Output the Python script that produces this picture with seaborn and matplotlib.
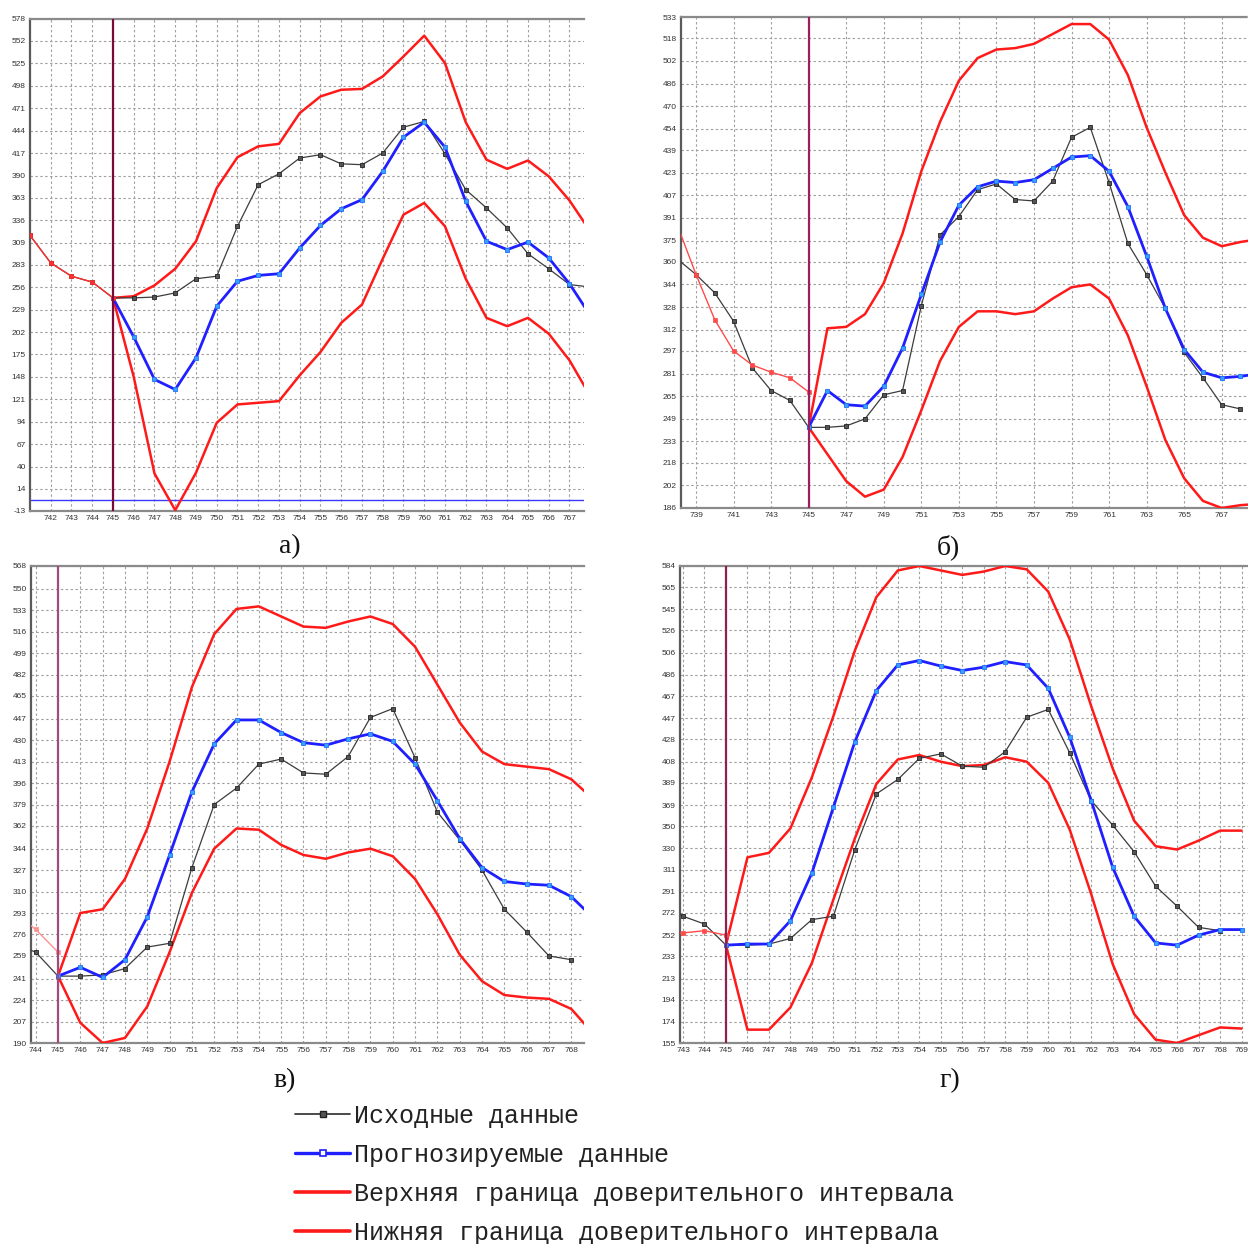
import matplotlib
matplotlib.use("Agg")
import matplotlib.pyplot as plt
import seaborn as sns
import pandas as pd
from matplotlib.lines import Line2D

# ---------------- data ----------------
# observed series (periods 738..768)
obs_t = list(range(738, 769))
obs_v = [362, 351, 338, 318, 285, 269, 262, 243, 243, 244, 249, 266, 269, 329, 379,
         392, 411, 415, 404, 403, 417, 448, 455, 416, 373, 351, 327, 296, 278, 259, 256]

# panel а: fitted history, forecast and confidence bounds
a_hist_t = [741, 742, 743, 744, 745]
a_hist_v = [318, 285, 269, 262, 243]
a_fc_t = list(range(745, 769))
a_fc = [243, 196, 145, 133, 171, 233, 263, 270, 272, 303, 330, 350, 361, 395, 436, 454,
        424, 359, 311, 301, 310, 291, 260, 222]
a_up = [243, 245, 258, 278, 311, 375, 412, 425, 428, 465, 485, 493, 494, 509, 533, 558,
        525, 454, 409, 398, 408, 389, 360, 323]
a_lo = [243, 148, 32, -12, 33, 93, 115, 117, 119, 150, 178, 213, 235, 290, 343, 357,
        329, 266, 219, 209, 219, 200, 168, 125]
a_yticks = [-13, 14, 40, 67, 94, 121, 148, 175, 202, 229, 256, 283, 309, 336, 363, 390,
            417, 444, 471, 498, 525, 552, 578]
a_xticks = list(range(742, 768))

# panel б
b_hist_t = [738, 739, 740, 741, 742, 743, 744, 745]
b_hist_v = [386, 351, 319, 297, 287, 282, 278, 268]
b_fc_t = list(range(745, 770))
b_fc = [243, 269, 259, 258, 272, 299, 337, 374, 400, 413, 417, 416, 418, 426, 434, 435,
        424, 399, 364, 327, 298, 282, 278, 279, 281]
b_up = [243, 313, 314, 323, 345, 380, 424, 459, 488, 504, 510, 511, 514, 521, 528, 528,
        517, 492, 455, 423, 393, 377, 371, 374, 376]
b_lo = [243, 224, 205, 194, 199, 222, 255, 290, 314, 325, 325, 323, 325, 334, 342, 344,
        334, 308, 272, 234, 207, 191, 186, 188, 189]
b_yticks = [186, 202, 218, 233, 249, 265, 281, 297, 312, 328, 344, 360, 375, 391, 407,
            423, 439, 454, 470, 486, 502, 518, 533]
b_xticks = list(range(739, 768, 2))

# panel в
c_hist_t = [743, 744, 745]
c_hist_v = [294, 280, 262]
c_fc_t = list(range(745, 770))
c_fc = [243, 250, 242, 256, 290, 339, 389, 427, 446, 446, 436, 428, 426, 431, 435, 429,
        411, 382, 352, 329, 318, 316, 315, 306, 289]
c_up = [243, 293, 296, 320, 360, 413, 472, 514, 534, 536, 528, 520, 519, 524, 528, 522,
        504, 474, 444, 421, 411, 409, 407, 399, 383]
c_lo = [243, 206, 190, 194, 219, 262, 309, 344, 360, 359, 347, 339, 336, 341, 344, 338,
        320, 292, 260, 239, 228, 226, 225, 217, 197]
c_yticks = [190, 207, 224, 241, 259, 276, 293, 310, 327, 344, 362, 379, 396, 413, 430,
            447, 465, 482, 499, 516, 533, 550, 568]
c_xticks = list(range(744, 769))

# panel г
d_hist_t = [742, 743, 744, 745]
d_hist_v = [253, 254, 256, 252]
d_fc_t = list(range(745, 770))
d_fc = [243, 244, 244, 265, 308, 367, 426, 472, 495, 499, 494, 490, 493, 498, 495, 474,
        430, 373, 313, 269, 245, 243, 252, 257, 257]
d_up = [243, 322, 326, 348, 394, 449, 508, 556, 580, 584, 580, 576, 579, 584, 581, 561,
        518, 458, 402, 355, 332, 329, 337, 346, 346]
d_lo = [243, 167, 167, 187, 227, 284, 339, 388, 410, 414, 408, 404, 405, 412, 408, 389,
        347, 289, 226, 181, 158, 155, 162, 169, 168]
d_yticks = [155, 174, 194, 213, 233, 252, 272, 291, 311, 330, 350, 369, 389, 408, 428,
            447, 467, 486, 506, 526, 545, 565, 584]
d_xticks = list(range(743, 770))

legend_labels = ["Исходные данные", "Прогнозируемые данные",
                 "Верхняя граница доверительного интервала",
                 "Нижняя граница доверительного интервала"]
panel_letters = ["а)", "б)", "в)", "г)"]

# ---------------- style ----------------
sns.set_style("white")
plt.rcParams["font.family"] = ["Liberation Sans", "DejaVu Sans"]

OBS_C = "#3c3c3c"
FC_C = "#1f1fff"
BOUND_C = "#ff1a1a"
SPLIT_T = 745

W, H = 1248, 1244
fig = plt.figure(figsize=(W / 100, H / 100), dpi=100)


def frac(left, top, right, bottom):
    return [left / W, 1 - bottom / H, (right - left) / W, (bottom - top) / H]


def draw_panel(ax, hist_t, hist_v, hist_c, fc_t, fc, up, lo, xlim, yticks, xticks,
               split_c, zero_line=False):
    ax.grid(True, color="#a0a0a0", lw=0.8, ls=(0, (2.2, 2.2)))
    ax.set_axisbelow(True)

    sns.lineplot(x=fc_t, y=up, ax=ax, color=BOUND_C, lw=1.8, zorder=3)
    sns.lineplot(x=fc_t, y=lo, ax=ax, color=BOUND_C, lw=1.8, zorder=3)
    sns.lineplot(x=obs_t, y=obs_v, ax=ax, color=OBS_C, lw=0.9, marker="s", ms=2.6,
                 mfc="#555555", mec="#222222", mew=0.6, zorder=4)
    sns.lineplot(x=fc_t, y=fc, ax=ax, color=FC_C, lw=2.0, marker="s", ms=3,
                 mfc="#3aa0ff", mec="#1f6fff", mew=0.6, zorder=5)
    sns.lineplot(x=hist_t, y=hist_v, ax=ax, color=hist_c, lw=1.0, marker="s", ms=2.6,
                 mfc=hist_c, mec=hist_c, mew=0.5, zorder=6)
    if zero_line:
        ax.axhline(0, color="#3a3aff", lw=1.0, zorder=2)
    ax.axvline(SPLIT_T, color=split_c, lw=1.6, zorder=7)

    ax.set_xlim(*xlim)
    ax.set_ylim(yticks[0], yticks[-1])
    ax.set_yticks(yticks)
    ax.set_yticklabels([str(v) for v in yticks])
    ax.set_xticks(xticks)
    ax.set_xticklabels([str(v) for v in xticks])
    ax.set_xlabel("")
    ax.set_ylabel("")
    ax.tick_params(labelsize=6, colors="#333333", length=0, pad=3)

    ax.spines["right"].set_visible(False)
    ax.spines["left"].set_color("#5a5a5a")
    ax.spines["left"].set_linewidth(1.6)
    ax.spines["bottom"].set_color("#8a8a8a")
    ax.spines["bottom"].set_linewidth(1.6)
    ax.spines["top"].set_color("#8a8a8a")
    ax.spines["top"].set_linewidth(1.6)
    ax.spines["top"].set_linestyle((0, (2.5, 1)))


ax_a = fig.add_axes(frac(30, 19, 584, 511))
draw_panel(ax_a, a_hist_t, a_hist_v, "#ff3030", a_fc_t, a_fc, a_up, a_lo,
           (741.0, 767.7), a_yticks, a_xticks, "#7a0a3a", zero_line=True)

ax_b = fig.add_axes(frac(681, 17, 1248, 508))
draw_panel(ax_b, b_hist_t, b_hist_v, "#ff4a4a", b_fc_t, b_fc, b_up, b_lo,
           (738.2, 768.4), b_yticks, b_xticks, "#9a1f5e")

ax_c = fig.add_axes(frac(31, 566, 584, 1043))
draw_panel(ax_c, c_hist_t, c_hist_v, "#ff9090", c_fc_t, c_fc, c_up, c_lo,
           (743.79, 768.57), c_yticks, c_xticks, "#a04a7e")

ax_d = fig.add_axes(frac(680, 566, 1248, 1043))
draw_panel(ax_d, d_hist_t, d_hist_v, "#ff4a4a", d_fc_t, d_fc, d_up, d_lo,
           (742.86, 769.3), d_yticks, d_xticks, "#8b2252")

# panel captions
for (px, py), letter in zip([(290, 547), (948, 547), (285, 1081), (950, 1081)],
                            panel_letters):
    fig.text(px / W, 1 - py / H, letter, ha="center", va="center",
             family=["Liberation Serif", "DejaVu Serif"], fontsize=20, color="#111111")

# shared legend
handles = [
    Line2D([], [], color=OBS_C, lw=1.3, marker="s", ms=4, mfc="#555555", mec="#222222"),
    Line2D([], [], color=FC_C, lw=2.4, marker="s", ms=5, mfc="white", mec=FC_C, mew=1.2),
    Line2D([], [], color=BOUND_C, lw=2.6),
    Line2D([], [], color=BOUND_C, lw=2.6),
]
fig.legend(handles, legend_labels, loc="upper left", bbox_to_anchor=(295 / W, 1 - 1104 / H),
           frameon=False, prop={"family": ["Liberation Mono", "DejaVu Sans Mono"], "size": 18},
           handlelength=2.2, handletextpad=0.15, labelspacing=0.6, borderaxespad=0,
           borderpad=0, labelcolor="#222222")

fig.savefig("out.png", dpi=100)
